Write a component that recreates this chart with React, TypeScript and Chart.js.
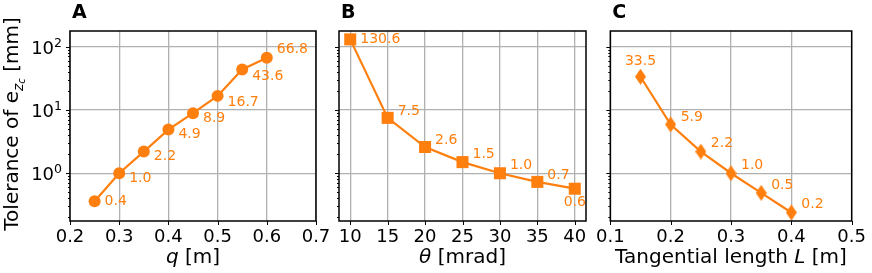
import React, { useEffect, useRef } from 'react';
import { Chart, registerables } from 'chart.js';

Chart.register(...registerables);

const FONT = '"DejaVu Sans", "Liberation Sans", sans-serif';
const ORANGE = '#ff7f0e';
const GRID = '#b0b0b0';

// ---- data ----
const qValues = [0.25, 0.3, 0.35, 0.4, 0.45, 0.5, 0.55, 0.6];
const toleranceVsQ = [0.36, 1.0, 2.2, 4.9, 8.9, 16.7, 43.6, 66.8];
const thetaValues = [10, 15, 20, 25, 30, 35, 40];
const toleranceVsTheta = [130.6, 7.5, 2.6, 1.5, 1.0, 0.73, 0.57];
const lengthValues = [0.15, 0.2, 0.25, 0.3, 0.35, 0.4];
const toleranceVsLength = [33.5, 5.9, 2.2, 1.0, 0.49, 0.24];
const qTicks = [0.2, 0.3, 0.4, 0.5, 0.6, 0.7];
const thetaTicks = [10, 15, 20, 25, 30, 35, 40];
const lengthTicks = [0.1, 0.2, 0.3, 0.4, 0.5];
const yDecadeExponents = [0, 1, 2];
const yMin = 0.176;
const yMax = 177;

type Seg = { t: string; italic?: boolean };

type Panel = {
  letter: string;
  xs: number[];
  ys: number[];
  xTicks: number[];
  xMin: number;
  xMax: number;
  tickDigits: number;
  canvasLeft: number;
  canvasWidth: number;
  chartLeft: number;
  chartRight: number;
  pointStyle: any;
  pointRadius: number;
  xTitle: Seg[];
  showYLabels: boolean;
  labelDx: number[];
  labelDy: number[];
  labelAlign: CanvasTextAlign[];
};

const CHART_TOP = 31;
const CHART_BOTTOM = 221;
const H = 273;

function makeDiamond(w: number, h: number, color: string) {
  const c = document.createElement('canvas');
  c.width = w;
  c.height = h;
  const g = c.getContext('2d')!;
  g.fillStyle = color;
  g.beginPath();
  g.moveTo(w / 2, 0);
  g.lineTo(w, h / 2);
  g.lineTo(w / 2, h);
  g.lineTo(0, h / 2);
  g.closePath();
  g.fill();
  return c;
}

function drawSegments(ctx: CanvasRenderingContext2D, segs: Seg[], cx: number, y: number, size: number) {
  const fonts = segs.map((s) => `${s.italic ? 'italic ' : ''}${size}px ${FONT}`);
  let total = 0;
  const widths = segs.map((s, i) => {
    ctx.font = fonts[i];
    const w = ctx.measureText(s.t).width;
    total += w;
    return w;
  });
  let x = cx - total / 2;
  ctx.textAlign = 'left';
  ctx.textBaseline = 'alphabetic';
  segs.forEach((s, i) => {
    ctx.font = fonts[i];
    ctx.fillText(s.t, x, y);
    x += widths[i];
  });
}

function makePlugin(p: Panel) {
  return {
    id: 'decor' + p.letter,
    afterDatasetsDraw(chart: any) {
      const ctx: CanvasRenderingContext2D = chart.ctx;
      const a = chart.chartArea;
      const xs = chart.scales.x;
      const ys = chart.scales.y;
      ctx.save();
      // data labels
      const meta = chart.getDatasetMeta(0);
      ctx.fillStyle = ORANGE;
      ctx.font = `14px ${FONT}`;
      ctx.textBaseline = 'middle';
      meta.data.forEach((el: any, i: number) => {
        ctx.textAlign = p.labelAlign[i];
        ctx.fillText(p.ys[i].toFixed(1), el.x + p.labelDx[i], el.y + p.labelDy[i]);
      });
      // frame
      ctx.strokeStyle = '#000';
      ctx.lineWidth = 1.5;
      ctx.strokeRect(a.left, a.top, a.right - a.left, a.bottom - a.top);
      // ticks
      ctx.lineWidth = 1;
      ctx.beginPath();
      p.xTicks.forEach((v) => {
        const px = Math.round(xs.getPixelForValue(v)) + 0.5;
        ctx.moveTo(px, a.bottom);
        ctx.lineTo(px, a.bottom + 4);
      });
      yDecadeExponents.forEach((e) => {
        const py = Math.round(ys.getPixelForValue(Math.pow(10, e))) + 0.5;
        ctx.moveTo(a.left, py);
        ctx.lineTo(a.left - 4, py);
      });
      for (let e = -1; e <= 2; e++) {
        for (let k = 2; k <= 9; k++) {
          const v = k * Math.pow(10, e);
          if (v < yMin || v > yMax) continue;
          const py = Math.round(ys.getPixelForValue(v)) + 0.5;
          ctx.moveTo(a.left, py);
          ctx.lineTo(a.left - 2, py);
        }
      }
      ctx.stroke();
      ctx.restore();
    },
    afterDraw(chart: any) {
      const ctx: CanvasRenderingContext2D = chart.ctx;
      const a = chart.chartArea;
      const ys = chart.scales.y;
      ctx.save();
      ctx.fillStyle = '#000';
      // panel letter
      ctx.font = `bold 19px ${FONT}`;
      ctx.textAlign = 'left';
      ctx.textBaseline = 'alphabetic';
      ctx.fillText(p.letter, a.left + 2, 18);
      // x title
      drawSegments(ctx, p.xTitle, (a.left + a.right) / 2, 263, 20);
      if (p.showYLabels) {
        // y tick labels 10^n
        yDecadeExponents.forEach((e) => {
          const py = ys.getPixelForValue(Math.pow(10, e));
          ctx.font = `12.5px ${FONT}`;
          const ew = ctx.measureText(String(e)).width;
          ctx.font = `18px ${FONT}`;
          const bw = ctx.measureText('10').width;
          const right = a.left - 8;
          ctx.textAlign = 'left';
          ctx.fillText('10', right - ew - bw, py + 7);
          ctx.font = `12.5px ${FONT}`;
          ctx.fillText(String(e), right - ew, py);
        });
        // y title (rotated)
        ctx.translate(13, (a.top + a.bottom) / 2 - 2);
        ctx.rotate(-Math.PI / 2);
        const parts = [
          { t: 'Tolerance of e', f: `20px ${FONT}`, dy: 0 },
          { t: 'z', f: `italic 14px ${FONT}`, dy: 6 },
          { t: 'c', f: `italic 10px ${FONT}`, dy: 9 },
          { t: ' [mm]', f: `20px ${FONT}`, dy: 0 },
        ];
        let total = 0;
        const ws = parts.map((s) => {
          ctx.font = s.f;
          const w = ctx.measureText(s.t).width;
          total += w;
          return w;
        });
        let x = -total / 2;
        ctx.textBaseline = 'middle';
        parts.forEach((s, i) => {
          ctx.font = s.f;
          ctx.fillText(s.t, x, s.dy);
          x += ws[i];
        });
      }
      ctx.restore();
    },
  };
}

function PanelChart({ p }: { p: Panel }) {
  const ref = useRef<HTMLCanvasElement | null>(null);
  useEffect(() => {
    if (!ref.current) return;
    const yWidth = p.chartLeft - p.canvasLeft;
    const rightPad = p.canvasLeft + p.canvasWidth - p.chartRight;
    const chart = new Chart(ref.current, {
      type: 'line',
      data: {
        datasets: [
          {
            data: p.xs.map((x, i) => ({ x, y: p.ys[i] })),
            borderColor: ORANGE,
            backgroundColor: ORANGE,
            borderWidth: 2.2,
            pointStyle: p.pointStyle,
            pointRadius: p.pointRadius,
            pointBackgroundColor: ORANGE,
            pointBorderColor: ORANGE,
            pointBorderWidth: 0,
            clip: false as any,
            tension: 0,
          },
        ],
      },
      options: {
        animation: false,
        responsive: false,
        events: [],
        layout: { padding: { left: 0, right: rightPad, top: CHART_TOP, bottom: 0 } },
        plugins: { legend: { display: false }, tooltip: { enabled: false }, title: { display: false } },
        scales: {
          x: {
            type: 'linear',
            min: p.xMin,
            max: p.xMax,
            afterBuildTicks: (s: any) => {
              s.ticks = p.xTicks.map((v) => ({ value: v }));
            },
            afterFit: (s: any) => {
              s.height = H - CHART_BOTTOM;
            },
            grid: { color: GRID, lineWidth: 1.3, drawTicks: false },
            border: { display: false },
            ticks: {
              autoSkip: false,
              maxRotation: 0,
              padding: 6,
              color: '#000',
              font: { family: FONT, size: 18 },
              callback: (v: any) => Number(v).toFixed(p.tickDigits),
            },
          },
          y: {
            type: 'logarithmic',
            min: yMin,
            max: yMax,
            afterBuildTicks: (s: any) => {
              s.ticks = yDecadeExponents.map((e) => ({ value: Math.pow(10, e), major: true }));
            },
            afterFit: (s: any) => {
              s.width = yWidth;
            },
            grid: { color: GRID, lineWidth: 1.3, drawTicks: false },
            border: { display: false },
            ticks: { display: false },
          },
        },
      },
      plugins: [makePlugin(p)],
    } as any);
    return () => chart.destroy();
  }, [p]);
  return (
    <canvas
      ref={ref}
      width={p.canvasWidth}
      height={H}
      style={{ position: 'absolute', left: p.canvasLeft, top: 0, width: p.canvasWidth, height: H }}
    />
  );
}

let diamond: any = null;

function getPanels(): Panel[] {
  if (!diamond) diamond = makeDiamond(11, 16, ORANGE);
  return [
    {
      letter: 'A',
      xs: qValues,
      ys: toleranceVsQ,
      xTicks: qTicks,
      xMin: 0.2,
      xMax: 0.7,
      tickDigits: 1,
      canvasLeft: 0,
      canvasWidth: 340,
      chartLeft: 70,
      chartRight: 316,
      pointStyle: 'circle',
      pointRadius: 6,
      xTitle: [{ t: 'q', italic: true }, { t: ' [m]' }],
      showYLabels: true,
      labelDx: [10, 10, 10, 10, 10, 10, 10, 10],
      labelDy: [0, 5, 5, 5, 5, 6, 7, -8],
      labelAlign: ['left', 'left', 'left', 'left', 'left', 'left', 'left', 'left'],
    },
    {
      letter: 'B',
      xs: thetaValues,
      ys: toleranceVsTheta,
      xTicks: thetaTicks,
      xMin: 8.5,
      xMax: 41.5,
      tickDigits: 0,
      canvasLeft: 320,
      canvasWidth: 290,
      chartLeft: 339,
      chartRight: 586,
      pointStyle: 'rect',
      pointRadius: 8.5,
      xTitle: [{ t: 'θ', italic: true }, { t: ' [mrad]' }],
      showYLabels: false,
      labelDx: [10, 10, 10, 10, 10, 10, 0],
      labelDy: [0, -7, -7, -8, -8, -7, 14],
      labelAlign: ['left', 'left', 'left', 'left', 'left', 'left', 'center'],
    },
    {
      letter: 'C',
      xs: lengthValues,
      ys: toleranceVsLength,
      xTicks: lengthTicks,
      xMin: 0.1,
      xMax: 0.5,
      tickDigits: 1,
      canvasLeft: 590,
      canvasWidth: 282,
      chartLeft: 610,
      chartRight: 856,
      pointStyle: diamond,
      pointRadius: 8,
      xTitle: [{ t: 'Tangential length ' }, { t: 'L', italic: true }, { t: ' [m]' }],
      showYLabels: false,
      labelDx: [0, 10, 10, 10, 10, 10],
      labelDy: [-15, -7, -8, -8, -8, -8],
      labelAlign: ['center', 'left', 'left', 'left', 'left', 'left'],
    },
  ];
}

export default function App() {
  const panelsRef = useRef<Panel[] | null>(null);
  if (!panelsRef.current) panelsRef.current = getPanels();
  return (
    <div style={{ position: 'absolute', left: 0, top: 0, width: 872, height: H, background: '#fff', overflow: 'hidden' }}>
      {panelsRef.current.map((p) => (
        <PanelChart key={p.letter} p={p} />
      ))}
    </div>
  );
}
